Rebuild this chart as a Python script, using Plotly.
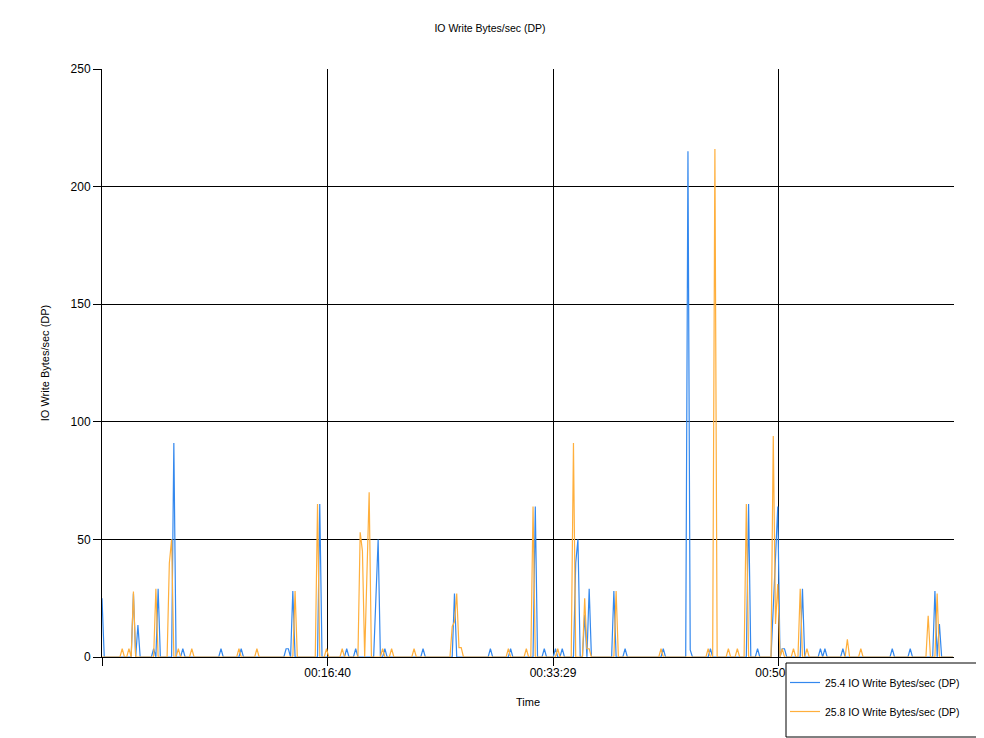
import plotly.graph_objects as go

# sample grid (seconds)
step = 10
t_end = 3790

# non-zero samples (seconds -> value)
blue_t = [0, 140, 160, 230, 250, 320, 360, 530, 620, 820, 830, 850, 970, 1090, 1130,
          1220, 1230, 1260, 1430, 1570, 1730, 1820, 1930, 1970, 2020, 2050, 2110, 2120,
          2150, 2170, 2280, 2330, 2500, 2610, 2620, 2710, 2880, 2920, 2990, 3000, 3010,
          3030, 3040, 3120, 3200, 3220, 3300, 3520, 3600, 3710, 3730]
blue_v = [25, 27, 13.6, 3.5, 29, 91, 3.5, 3.5, 3.5, 3.5, 3.5, 28, 65, 3.5, 3.5,
          25, 50, 3.5, 3.5, 27, 3.5, 3.5, 64, 3.5, 3.5, 3.5, 40, 50,
          18, 29, 28, 3.5, 3.5, 215, 3, 3.5, 65, 3.5, 21, 42, 64,
          3.5, 3.5, 29, 3.5, 3.5, 3.5, 3.5, 3.5, 28, 14]

orange_t = [90, 120, 140, 240, 300, 310, 340, 400, 610, 690, 860, 960, 1000, 1070,
            1150, 1160, 1180, 1190, 1250, 1290, 1390, 1560, 1570, 1580, 1590, 1600,
            1810, 1890, 1920, 2030, 2100, 2150, 2160, 2170, 2290, 2490, 2700, 2730,
            2790, 2830, 2870, 2990, 3000, 3010, 3030, 3080, 3110, 3140, 3320, 3380,
            3680, 3720]
orange_v = [3.5, 3.5, 27.8, 29, 40, 50, 3.5, 3.5, 3.5, 3.5, 28, 65, 3.5, 3.5,
            53, 45, 35, 70, 3.5, 3.5, 3.5, 13, 15, 27, 4, 4,
            3.5, 3.5, 64, 3.5, 91, 25, 3.5, 3.5, 28, 3.5, 3.5, 216,
            3.5, 3.5, 65, 94, 14, 31, 3.5, 3.5, 29, 3.5, 7.5, 3.5,
            17.5, 27]

tick_vals = [0, 1005, 2009, 3014]
tick_text = ["", "00:16:40", "00:33:29", "00:50:18"]

series_names = ["25.4 IO Write Bytes/sec (DP)", "25.8 IO Write Bytes/sec (DP)"]
colors = ["rgb(51,136,238)", "rgb(255,175,60)"]

times = list(range(0, t_end + 1, step))


def full_series(ts, vs):
    lookup = dict(zip(ts, vs))
    return [lookup.get(t, 0) for t in times]


fig = go.Figure()
for name, col, ts, vs, grp in [
    (series_names[0], colors[0], blue_t, blue_v, "a"),
    (series_names[1], colors[1], orange_t, orange_v, "b"),
]:
    fig.add_trace(go.Scatter(
        x=times, y=full_series(ts, vs), mode="lines", name=name,
        line=dict(color=col, width=1.2), legendgroup=grp,
    ))

font_family = "Liberation Sans, Arial, sans-serif"

# page offset of 8px (default body margin)
L, T = 94, 61
PW, PH = 852, 588
fig_w, fig_h = 984, 738

# legend box (drawn as a shape, covering the last tick label)
fig.add_shape(
    type="rect", xref="paper", yref="paper", layer="above",
    x0=(786 - 102) / PW, x1=(983 - 102) / PW,
    y0=(657 - 663) / PH, y1=(657 - 737) / PH,
    fillcolor="white", line=dict(color="black", width=1),
)

fig.update_layout(
    width=fig_w, height=fig_h,
    paper_bgcolor="white", plot_bgcolor="white",
    margin=dict(l=L, r=fig_w - L - PW, t=T, b=fig_h - T - PH),
    title=dict(text="IO Write Bytes/sec (DP)", x=(490 - 8) / fig_w, xanchor="center",
               y=1 - 20 / fig_h, yanchor="middle",
               font=dict(family=font_family, size=10.5, color="black")),
    font=dict(family=font_family, color="black"),
    showlegend=True,
    legend=dict(
        x=(785 - 102) / PW, xanchor="left",
        y=(657 - 668) / PH, yanchor="top",
        bgcolor="rgba(0,0,0,0)", borderwidth=0,
        font=dict(family=font_family, size=10.5, color="black"),
        tracegroupgap=10,
    ),
)

fig.update_xaxes(
    range=[0, 3795], tickvals=tick_vals, ticktext=tick_text,
    showgrid=True, gridcolor="black", gridwidth=1,
    showline=True, linecolor="black", linewidth=1,
    ticks="outside", ticklen=8, tickcolor="black",
    ticklabelstandoff=-3,
    tickfont=dict(family=font_family, size=12, color="black"),
    zeroline=False,
    title=dict(text="Time", standoff=18,
               font=dict(family=font_family, size=11, color="black")),
)
fig.update_yaxes(
    range=[0, 250], tickvals=[0, 50, 100, 150, 200, 250],
    showgrid=True, gridcolor="black", gridwidth=1,
    showline=True, linecolor="black", linewidth=1,
    ticks="outside", ticklen=8, tickcolor="black",
    tickfont=dict(family=font_family, size=12, color="black"),
    zeroline=False,
    title=dict(text="IO Write Bytes/sec (DP)", standoff=18,
               font=dict(family=font_family, size=11, color="black")),
)

fig.write_html("out.html")
